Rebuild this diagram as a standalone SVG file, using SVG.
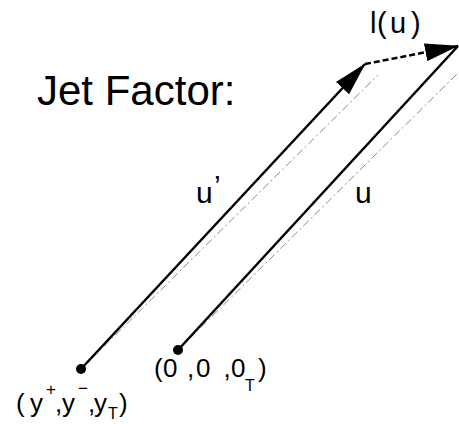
<svg xmlns="http://www.w3.org/2000/svg" width="459" height="424" viewBox="0 0 459 424">
<style>
text{font-family:"Liberation Sans",Arial,sans-serif;fill:#000}
.main{stroke:#000;stroke-width:2.5;fill:none}
.ref{stroke:#8a8a8a;stroke-width:1;fill:none;stroke-dasharray:8 3 2 3}
.dot{fill:#000}
.lbl{font-size:26px}
.sm{font-size:17px}
.sb{font-size:16px}
</style>
<defs>
<marker id="ah" markerUnits="userSpaceOnUse" viewBox="0 0 34 18" refX="33" refY="9" markerWidth="34" markerHeight="18" orient="auto">
<path d="M0,0 L34,9 L0,18 z" fill="#000"/>
</marker>
</defs>
<rect width="459" height="424" fill="#fff"/>
<g id="connectors">
<line class="ref" x1="81" y1="369" x2="378" y2="75"/>
<line class="ref" x1="178" y1="350" x2="459" y2="72"/>
<line class="main" x1="81" y1="369" x2="365" y2="64" marker-end="url(#ah)"/>
<line class="main" x1="178" y1="350" x2="458" y2="46"/>
<line class="main" x1="365" y1="64" x2="458" y2="46" stroke-width="3" stroke-dasharray="6 3" marker-end="url(#ah)"/>
</g>
<g id="title"><text x="37" y="105" font-size="42">Jet Factor:</text></g>
<g id="node-yplus">
<circle class="dot" cx="81" cy="369" r="5"/>
<text class="lbl" y="412"><tspan x="16">(</tspan><tspan x="30">y</tspan><tspan x="46" y="395" class="sm">+</tspan><tspan x="55" y="412">,</tspan><tspan x="62">y</tspan><tspan x="78" y="394" class="sm">−</tspan><tspan x="88" y="412">,</tspan><tspan x="94">y</tspan><tspan x="108" y="419" class="sb">T</tspan><tspan x="119" y="412">)</tspan></text>
</g>
<g id="node-zero">
<circle class="dot" cx="178" cy="350" r="5"/>
<text class="lbl" y="377"><tspan x="154">(</tspan><tspan x="163">0</tspan><tspan x="187">,</tspan><tspan x="196">0</tspan><tspan x="223.5">,</tspan><tspan x="231">0</tspan><tspan x="245" y="391" class="sb">T</tspan><tspan x="258" y="377">)</tspan></text>
</g>
<g id="label-uprime"><text font-size="30" y="203"><tspan x="196">u</tspan><tspan x="214" y="196">’</tspan></text></g>
<g id="label-u"><text font-size="30" x="355" y="203">u</text></g>
<g id="label-lu"><text font-size="29" y="33"><tspan x="370">l</tspan><tspan x="377">(</tspan><tspan x="390">u</tspan><tspan x="411">)</tspan></text></g>
</svg>
